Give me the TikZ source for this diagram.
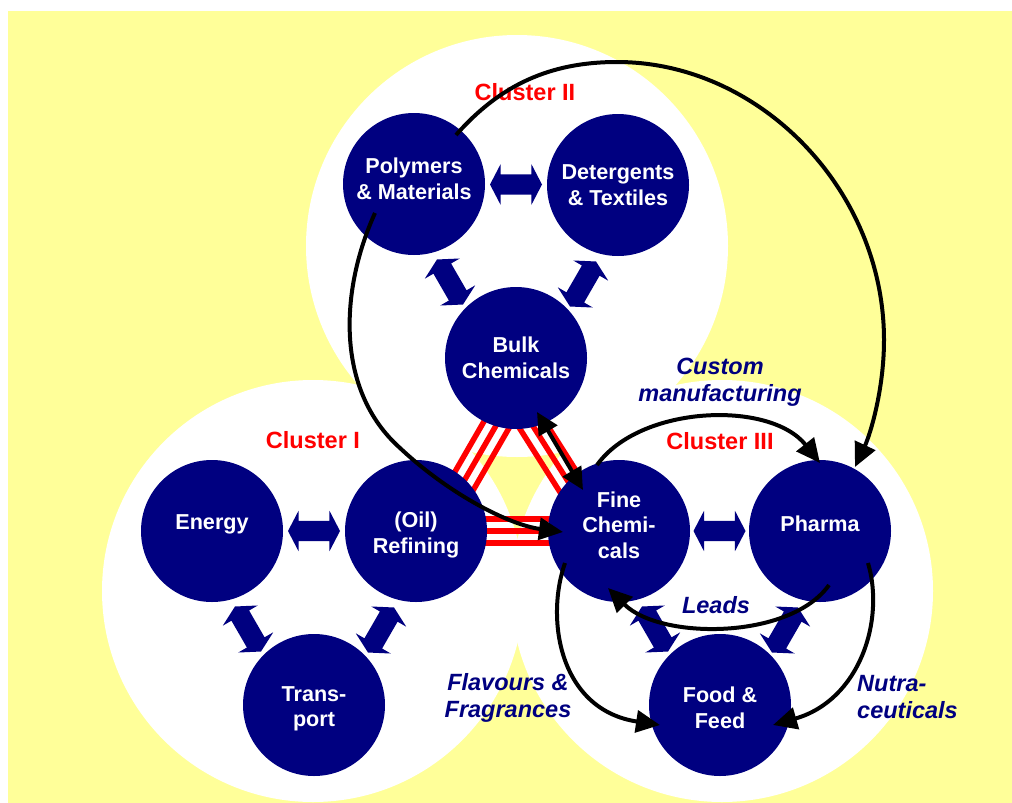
\documentclass[tikz,border=0pt]{standalone}
\usepackage{fontspec}
\setmainfont{Liberation Sans}
\usetikzlibrary{shapes.arrows,arrows.meta,calc}
\definecolor{navy}{HTML}{000080}
\definecolor{bgyellow}{HTML}{FFFF99}
\definecolor{cred}{HTML}{FF0000}
\begin{document}
\begin{tikzpicture}[x=1pt,y=-1pt,
  bubble/.style={circle, fill=navy, minimum size=142pt, inner sep=0pt},
  btext/.style={text=white, inner sep=0pt, align=center,
    font=\fontsize{21.6}{25.5}\selectfont\bfseries},
  cluster/.style={circle, fill=white, minimum size=422pt, inner sep=0pt},
  blockarrow/.style={double arrow, fill=navy, inner xsep=0pt, inner ysep=10pt,
    minimum height=52pt, double arrow head extend=10pt, double arrow tip angle=125},
  stripe/.style={draw=cred, line width=5.5pt},
  flow/.style={draw=black, line width=4pt, -{Triangle[length=24pt,width=22pt]}},
  twoway/.style={draw=black, line width=4pt, {Triangle[length=22pt,width=21pt]}-{Triangle[length=22pt,width=21pt]}},
  clabel/.style={text=cred, font=\fontsize{23.5}{27}\selectfont\bfseries},
  ilabel/.style={text=navy, inner sep=0pt, font=\fontsize{23.5}{27}\selectfont\bfseries\itshape},
]
% background
\fill[white] (0,0) rectangle (1012,803);
\fill[bgyellow] (8,11) rectangle (1012,803);
\useasboundingbox (0,0) rectangle (1012,803);

% cluster discs
\node[cluster] (c2) at (517,246) {};
\node[cluster] (c1) at (313,591) {};
\node[cluster] (c3) at (722,591) {};

% node positions (coordinates first so stripes can go underneath)
\coordinate (pbulk) at (516,358);
\coordinate (prefin) at (416,531);
\coordinate (pfine) at (619,531);

% red stripes
\foreach \o in {-12.5,0,12.5}{
  \draw[stripe] ($(pbulk)+(-11,52)+({\o*0.866},{\o*0.5})$) -- ($(prefin)+(44,-43)+({\o*0.866},{\o*0.5})$);
  \draw[stripe] ($(pbulk)+(10,57)+({\o*0.85},{-\o*0.53})$) -- ($(pfine)+(-43,-37)+({\o*0.85},{-\o*0.53})$);
}
\foreach \o in {-12,0,12}{
  \draw[stripe] ($(prefin)+(54,\o)$) -- ($(pfine)+(-59,\o)$);
}

% navy nodes
\node[bubble, label={[btext, yshift=5]center:Polymers\\\& Materials}] (poly) at (414,184) {};
\node[bubble, label={[btext]center:Detergents\\\& Textiles}] (det) at (618,185) {};
\node[bubble, label={[btext]center:Bulk\\Chemicals}] (bulk) at (pbulk) {};
\node[bubble, label={[btext, yshift=7]center:Energy}] (energy) at (212,531) {};
\node[bubble, label={[btext, yshift=-4]center:(Oil)\\Refining}] (refin) at (prefin) {};
\node[bubble, label={[btext, yshift=-4]center:Trans-\\port}] (trans) at (314,705) {};
\node[bubble, label={[btext, yshift=6]center:Fine\\Chemi-\\cals}] (fine) at (pfine) {};
\node[bubble, label={[btext, yshift=7]center:Pharma}] (pharma) at (820,531) {};
\node[bubble, label={[btext, yshift=-3]center:Food \&\\Feed}] (food) at (720,705) {};

% block arrows
\node[blockarrow] (a1) at ($(poly)!0.5!(det)$) {};
\node[blockarrow] (a2) at ($(energy)!0.5!(refin)$) {};
\node[blockarrow] (a3) at ($(fine)!0.5!(pharma)$) {};
\node[blockarrow, rotate=-60] (a4) at ($(poly)+(36,98)$) {};
\node[blockarrow, rotate=60] (a5) at ($(det)+(-35,99)$) {};
\node[blockarrow, rotate=-60] (a6) at ($(energy)+(36,98)$) {};
\node[blockarrow, rotate=60] (a7) at ($(refin)+(-35,99)$) {};
\node[blockarrow, rotate=-60] (a8) at ($(fine)+(36,98)$) {};
\node[blockarrow, rotate=60] (a9) at ($(pharma)+(-35,99)$) {};

% labels
\node[clabel] (lc2) at (525,92) {Cluster II};
\node[clabel] (lc1) at (313,440) {Cluster I};
\node[clabel] (lc3) at (720,441) {Cluster III};
\node[ilabel, align=center] (lcm) at (720,382) {Custom\\manufacturing};
\node[ilabel] (lleads) at (716,605) {Leads};
\node[ilabel, align=center] (lff) at (508,698) {Flavours \&\\Fragrances};
\node[ilabel, align=left, anchor=west] (lnut) at (857,697) {Nutra-\\ceuticals};

% black flows
\draw[flow] ($(poly)+(42,-49)$) .. controls (500,85) and (550,62) .. (617,62)
  .. controls (760,62) and (884,190) .. (884,340)
  .. controls (884,390) and (870,435) .. ($(pharma)+(35,-64)$);
\draw[flow] ($(poly)+(-39,29)$) .. controls (340,290) and (335,390) .. (400,448)
  .. controls (450,495) and (510,525) .. ($(fine)+(-56,1)$);
\draw[twoway] ($(bulk)+(21,54)$) -- ($(fine)+(-36,-41)$);
\draw[flow] ($(fine)+(-22,-66)$) .. controls (640,405) and (770,400) .. ($(pharma)+(0,-68)$);
\draw[flow] ($(pharma)+(9,54)$) .. controls (790,640) and (660,640) .. ($(fine)+(-11,57)$);
\draw[flow] ($(fine)+(-54,32)$) .. controls (545,620) and (560,710) .. ($(food)+(-60,20)$);
\draw[flow] ($(pharma)+(48,32)$) .. controls (885,620) and (860,700) .. ($(food)+(53,20)$);
\end{tikzpicture}
\end{document}
